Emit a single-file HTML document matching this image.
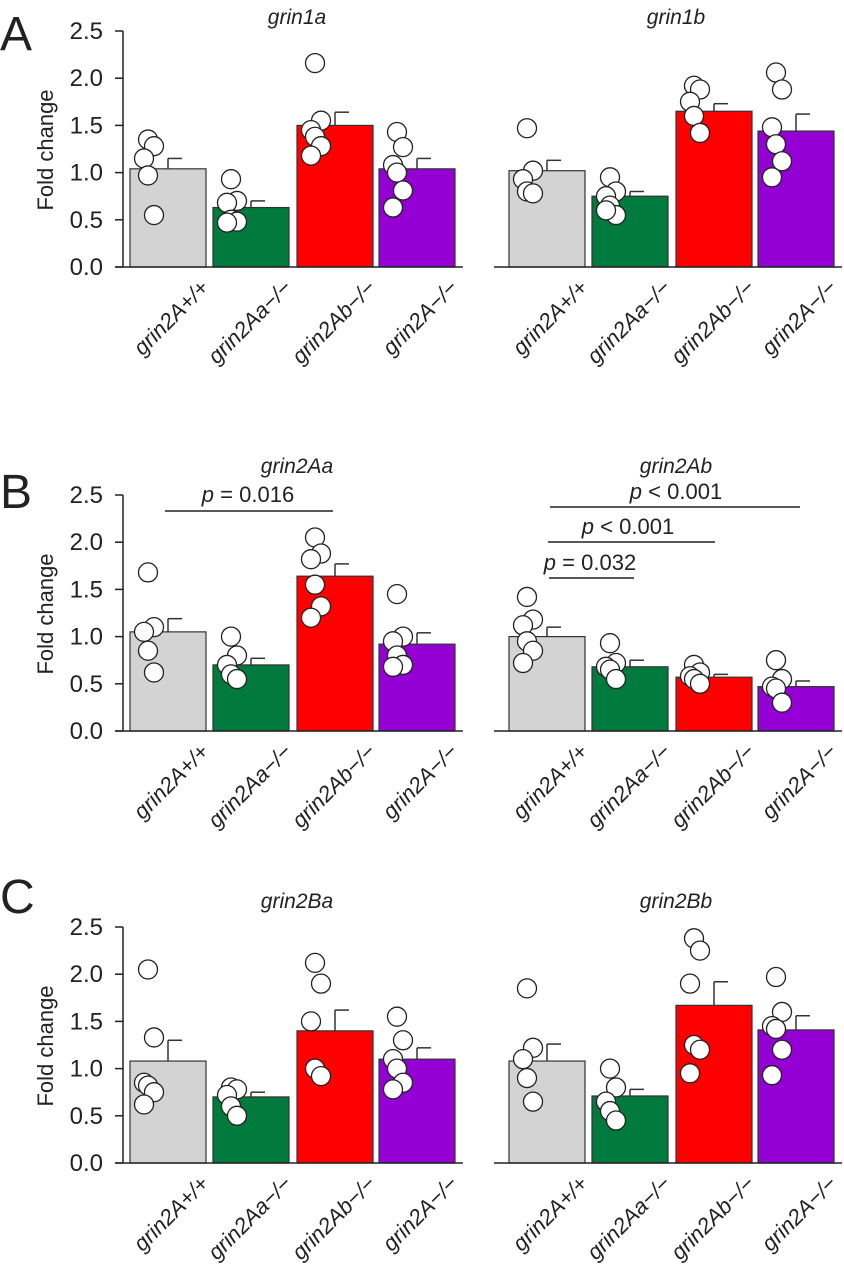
<!DOCTYPE html>
<html><head><meta charset="utf-8"><style>body{margin:0;background:#fff}svg{display:block}</style></head>
<body>
<svg id="s" width="844" height="1280" xmlns="http://www.w3.org/2000/svg" font-family="Liberation Sans, Arial, sans-serif"></svg>
<script>
const s=document.getElementById('s');let h='';
const cols=['#d3d3d3','#007a3d','#ff0000','#9400d3'];
const labs=['grin2A+/+','grin2Aa\u2212/\u2212','grin2Ab\u2212/\u2212','grin2A\u2212/\u2212'];
const K=94.4;
function panel(x0,y0,axis,title,means,errs,dots,ty,letter,ly){
 const bx=[x0+7,x0+90,x0+174,x0+256];
 const Y=v=>y0-v*K;
 if(axis){
  h+=`<line x1="${x0}" y1="${Y(2.5)}" x2="${x0}" y2="${y0}" stroke="#222" stroke-width="1.5"/>`;
  for(let i=0;i<=5;i++){const v=i*0.5,y=Y(v);
   h+=`<line x1="${x0-8}" y1="${y}" x2="${x0}" y2="${y}" stroke="#222" stroke-width="1.5"/>`;
   h+=`<text x="${x0-20}" y="${y+8}" font-size="24" text-anchor="end" fill="#222">${v.toFixed(1)}</text>`;}
  h+=`<text transform="translate(53,${y0-117}) rotate(-90)" font-size="22" text-anchor="middle" fill="#222">Fold change</text>`;
  h+=`<text x="0" y="${ly}" font-size="48" fill="#222">${letter}</text>`;
 }
 h+=`<text x="${x0+174}" y="${ty}" font-size="21" font-style="italic" text-anchor="middle" fill="#222">${title}</text>`;
 for(let i=0;i<4;i++){const x=bx[i],w=76,c=x+w/2;
  h+=`<rect x="${x}" y="${Y(means[i])}" width="${w}" height="${means[i]*K}" fill="${cols[i]}" stroke="#333" stroke-width="1.2"/>`;
  h+=`<line x1="${c}" y1="${Y(means[i])}" x2="${c}" y2="${Y(errs[i])}" stroke="#333" stroke-width="1.5"/><line x1="${c}" y1="${Y(errs[i])}" x2="${c+14}" y2="${Y(errs[i])}" stroke="#333" stroke-width="1.5"/>`;
  dots[i].forEach((v,j)=>{const dx=(j%3==1)?6:(j%3==2?-4:0);
   h+=`<circle cx="${c-20+dx}" cy="${Y(v)}" r="9.5" fill="#fff" stroke="#222" stroke-width="1.3"/>`;});
  h+=`<text transform="translate(${c+42},${y0+22}) rotate(-45)" font-size="22" font-style="italic" text-anchor="end" fill="#222">${labs[i]}</text>`;
 }
 h+=`<line x1="${x0-8}" y1="${y0}" x2="${x0+340}" y2="${y0}" stroke="#222" stroke-width="1.5"/>`;
}
panel(123,267,1,'grin1a',[1.04,0.63,1.5,1.04],[1.15,0.70,1.64,1.15],[[1.35,1.28,1.15,0.97,0.55],[0.93,0.70,0.68,0.50,0.48,0.47],[2.16,1.55,1.45,1.38,1.28,1.18],[1.43,1.27,1.08,1.0,0.81,0.63]],24,'A',50);
panel(502,267,0,'grin1b',[1.02,0.75,1.65,1.44],[1.13,0.80,1.73,1.62],[[1.47,1.02,0.93,0.80,0.78],[0.95,0.80,0.75,0.65,0.55,0.60],[1.92,1.88,1.75,1.60,1.42],[2.06,1.88,1.48,1.30,1.12,0.95]],24);
panel(123,731,1,'grin2Aa',[1.05,0.70,1.64,0.92],[1.19,0.77,1.77,1.04],[[1.68,1.10,1.05,0.85,0.62],[1.0,0.80,0.70,0.60,0.55],[2.05,1.88,1.82,1.55,1.32,1.20],[1.45,1.0,0.95,0.80,0.70,0.68]],473,'B',508);
panel(502,731,0,'grin2Ab',[1.0,0.68,0.57,0.47],[1.10,0.75,0.60,0.53],[[1.42,1.18,1.12,0.95,0.85,0.72],[0.93,0.72,0.68,0.65,0.55],[0.70,0.62,0.58,0.55,0.50],[0.75,0.55,0.47,0.45,0.30]],473);
panel(123,1163,1,'grin2Ba',[1.08,0.70,1.40,1.10],[1.30,0.75,1.62,1.22],[[2.05,1.33,0.85,0.82,0.75,0.62],[0.80,0.78,0.72,0.60,0.50],[2.12,1.90,1.50,1.00,0.92],[1.55,1.30,1.10,1.0,0.85,0.78]],908,'C',913);
panel(502,1163,0,'grin2Bb',[1.08,0.71,1.67,1.41],[1.26,0.78,1.92,1.56],[[1.85,1.22,1.10,0.90,0.65],[1.0,0.80,0.65,0.55,0.45],[2.38,2.25,1.90,1.25,1.20,0.95],[1.97,1.60,1.45,1.42,1.20,0.93]],908);
function sig(x1,x2,y,t,tx,ty){h+=`<line x1="${x1}" y1="${y}" x2="${x2}" y2="${y}" stroke="#222" stroke-width="1.5"/><text x="${tx}" y="${ty}" font-size="22" text-anchor="middle" fill="#222"><tspan font-style="italic">p</tspan>${t}</text>`;}
sig(165,333,511,' = 0.016',248,502);
sig(550,800,507,' &lt; 0.001',676,499);
sig(548,715,542,' &lt; 0.001',628,534);
sig(549,634,578,' = 0.032',590,570);
s.innerHTML=h;
</script>
</body></html>
